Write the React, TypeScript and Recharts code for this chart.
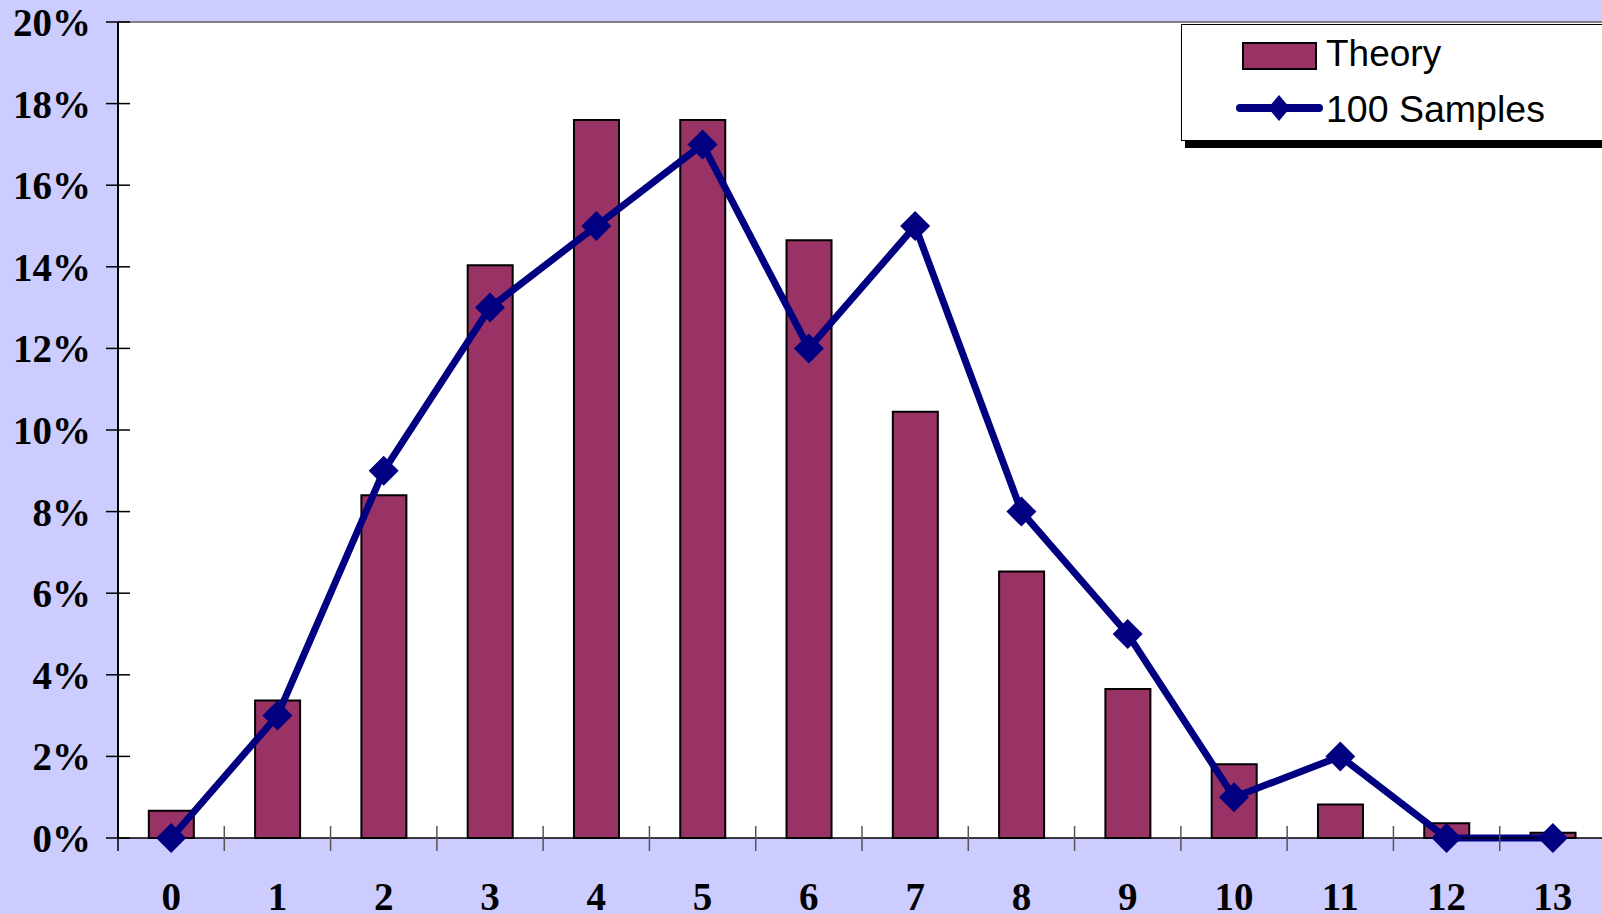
import React from 'react'
import { ComposedChart, Bar, Line, XAxis, YAxis, CartesianGrid, ReferenceLine, Legend } from 'recharts'

// number of events per interval
const counts = ['0', '1', '2', '3', '4', '5', '6', '7', '8', '9', '10', '11', '12', '13']
// expected share (%) from the theoretical distribution
const theory = [0.67, 3.37, 8.4, 14.04, 17.6, 17.6, 14.65, 10.45, 6.53, 3.65, 1.81, 0.82, 0.36, 0.13]
// observed share (%) in the sample of 100
const samples = [0, 3, 9, 13, 15, 17, 12, 15, 8, 5, 1, 2, 0, 0]
const yTicks = [0, 2, 4, 6, 8, 10, 12, 14, 16, 18, 20]

const theoryName = 'Theory'
const samplesName = '100 Samples'

const data = counts.map((c, i) => ({ count: c, theory: theory[i], samples: samples[i] }))

const W = 1606
const H = 914
const Y_AXIS_W = 118
const X_AXIS_H = 76
const PLOT_W = W - Y_AXIS_W

const BAR_FILL = '#993366'
const LINE_COLOR = '#000080'
const BG = '#CCCCFF'

const serif = '"Liberation Serif", "Times New Roman", serif'
const sans = '"Liberation Sans", Arial, sans-serif'

const XTick = (props: any) => {
  const { x, y, payload, index } = props
  const half = PLOT_W / counts.length / 2
  return (
    <g>
      {index === 0 && <line x1={x - half} x2={x - half} y1={y - 12} y2={y + 13} stroke="#000" strokeWidth={1.5} />}
      <line x1={x + half} x2={x + half} y1={y - 12} y2={y + 13} stroke="#555" strokeWidth={1.5} />
      <text x={x} y={y + 72} textAnchor="middle" fontFamily={serif} fontWeight="bold" fontSize={39} fill="#000">
        {payload.value}
      </text>
    </g>
  )
}

const YTick = (props: any) => {
  const { x, y, payload } = props
  return (
    <g>
      <line x1={x - 12} x2={x + 12} y1={y} y2={y} stroke="#000" strokeWidth={1.5} />
      <text x={x - 27} y={y + 14} textAnchor="end" fontFamily={serif} fontWeight="bold" fontSize={39} fill="#000">
        {`${payload.value}%`}
      </text>
    </g>
  )
}

const Diamond = (props: any) => {
  const { cx, cy, index } = props
  if (cx == null || cy == null) return null
  const r = 15
  return (
    <polygon
      key={`d-${index}`}
      points={`${cx},${cy - r} ${cx + r},${cy} ${cx},${cy + r} ${cx - r},${cy}`}
      fill={LINE_COLOR}
    />
  )
}

const LegendBox = () => (
  <div
    style={{
      width: 440,
      height: 117,
      background: '#fff',
      border: '1px solid #000',
      boxShadow: '4px 7px 0 0 #000',
      boxSizing: 'border-box',
    }}
  >
    <svg width={440} height={115} style={{ display: 'block' }}>
      <rect x={61} y={18} width={73} height={26} fill={BAR_FILL} stroke="#000" strokeWidth={2} />
      <text x={144} y={41} fontFamily={sans} fontSize={37} fill="#000">
        {theoryName}
      </text>
      <line x1={58} x2={137} y1={83} y2={83} stroke={LINE_COLOR} strokeWidth={8} strokeLinecap="round" />
      <polygon points="97,70 108,83 97,96 86,83" fill={LINE_COLOR} />
      <text x={144} y={97} fontFamily={sans} fontSize={37.5} fill="#000">
        {samplesName}
      </text>
    </svg>
  </div>
)

export default function App() {
  return (
    <div style={{ position: 'fixed', left: 0, top: 0, width: 1602, height: 914, overflow: 'hidden', background: BG }}>
      <ComposedChart
        width={W}
        height={H}
        data={data}
        margin={{ top: 22, right: 0, bottom: 0, left: 0 }}
        barCategoryGap="29%"
      >
        <CartesianGrid horizontal={false} vertical={false} fill="#fff" />
        <XAxis
          dataKey="count"
          height={X_AXIS_H}
          interval={0}
          tickSize={0}
          tickMargin={0}
          tickLine={false}
          tick={<XTick />}
          axisLine={{ stroke: '#000', strokeWidth: 1.5 }}
        />
        <YAxis
          width={Y_AXIS_W}
          domain={[0, 20]}
          ticks={yTicks}
          interval={0}
          tickSize={0}
          tickMargin={0}
          tickLine={false}
          tick={<YTick />}
          axisLine={{ stroke: '#000', strokeWidth: 2 }}
        />
        <ReferenceLine y={20} stroke="#808080" strokeWidth={2} />
        <Bar dataKey="theory" name={theoryName} fill={BAR_FILL} stroke="#000" strokeWidth={2} isAnimationActive={false} />
        <Line
          dataKey="samples"
          name={samplesName}
          type="linear"
          stroke={LINE_COLOR}
          strokeWidth={7}
          dot={<Diamond />}
          activeDot={false}
          isAnimationActive={false}
        />
        <Legend
          layout="horizontal"
          verticalAlign="middle"
          align="center"
          content={<LegendBox />}
          wrapperStyle={{ top: 24, left: 1181, width: 440, height: 117 }}
        />
      </ComposedChart>
    </div>
  )
}
